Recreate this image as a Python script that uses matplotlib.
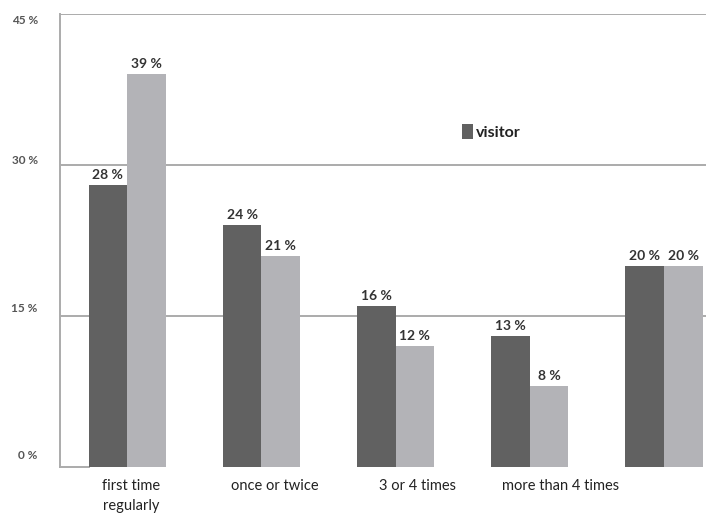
import matplotlib.pyplot as plt
import matplotlib.transforms as mtransforms
import numpy as np

categories = ["first time\nregularly", "once or twice", "3 or 4 times", "more than 4 times", ""]
visitor = [28, 24, 16, 13, 20]
other = [39, 21, 12, 8, 20]
y_ticks = [0, 15, 30, 45]
y_tick_labels = ["0 %", "15 %", "30 %", "45 %"]

dark = "#616161"
light = "#b3b3b7"
line_col = "#ababab"
text_col = "#333333"

plt.rcParams['font.family'] = ['Lato', 'DejaVu Sans']

fig = plt.figure(figsize=(7.06, 5.16), dpi=100)
ax = fig.add_axes([60 / 706, 1 - 467 / 516, 646 / 706, 453 / 516])

x = np.arange(len(categories))
w = 0.287
ax.bar(x - w / 2, visitor, w, color=dark, zorder=3, label="visitor")
ax.bar(x + w / 2, other, w, color=light, zorder=3)

for xi, v in zip(x - w / 2, visitor):
    ax.text(xi, v + 0.4, f"{v} %", ha='center', va='bottom', fontsize=10,
            fontweight='bold', color=text_col)
for xi, v in zip(x + w / 2, other):
    ax.text(xi, v + 0.4, f"{v} %", ha='center', va='bottom', fontsize=10,
            fontweight='bold', color=text_col)

ax.set_xlim(-0.5, 4.313)
ax.set_ylim(0, 45)

# horizontal gridlines at 15/30/45, and a short baseline stub on the left
for t in y_ticks[1:]:
    ax.axhline(t, color=line_col, lw=1.4, zorder=1)
ax.plot([-0.5, -w], [0, 0], color=line_col, lw=1.4, zorder=1, clip_on=False)

for s in ['top', 'right', 'bottom']:
    ax.spines[s].set_visible(False)
ax.spines['left'].set_color(line_col)
ax.spines['left'].set_linewidth(1.4)

ax.set_yticks(y_ticks)
ax.set_yticklabels(y_tick_labels, fontsize=8.5, fontweight='bold', color="#555555")
ax.tick_params(axis='y', length=0, pad=16)
# nudge the percent labels vertically (points, positive = up)
nudges = [9, 6, 4, -4]
for lbl, dy in zip(ax.get_yticklabels(), nudges):
    lbl.set_transform(lbl.get_transform() +
                      mtransforms.ScaledTranslation(0, dy / 72, fig.dpi_scale_trans))

label_shift = [0.03, 0.1, 0.16, 0.23, 0.0]
ax.set_xticks(x + np.array(label_shift))
ax.set_xticklabels(categories, fontsize=10.5, color="#222222", linespacing=1.5)
ax.tick_params(axis='x', length=0, pad=9)

leg = ax.legend(loc='upper left', bbox_to_anchor=(0.6, 0.79), frameon=False,
                prop={'weight': 'bold', 'size': 11.5}, handlelength=0.7,
                handleheight=1.1, handletextpad=0.2)
for t in leg.get_texts():
    t.set_color("#222222")

fig.savefig("out.png", dpi=100)
